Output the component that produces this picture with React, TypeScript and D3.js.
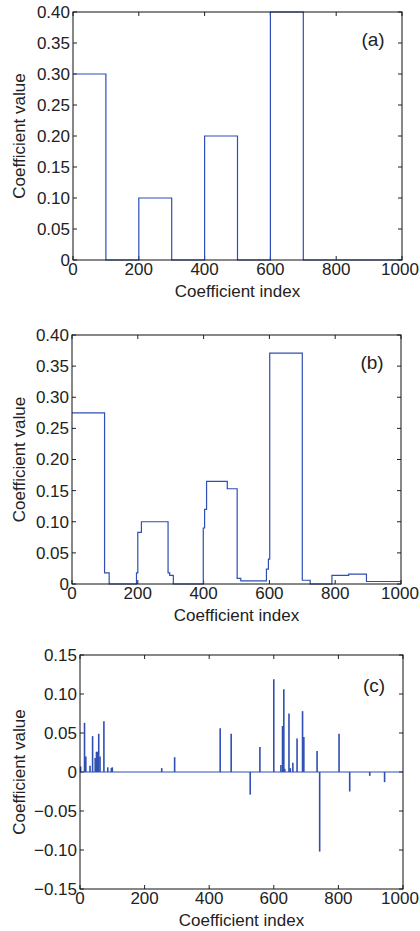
import React, { useEffect, useRef } from "react";
import * as d3 from "d3";

const width = 420;
const height = 931;
const lineColor = "#2f4fb2";
const font = "Arial, 'Liberation Sans', Helvetica, sans-serif";

// x ticks shared by all panels
const xTicks = [0, 200, 400, 600, 800, 1000];

// (a) original coefficients: start of each step and its value
const aStart = [0, 100, 200, 300, 400, 500, 600, 700];
const aValue = [0.3, 0, 0.1, 0, 0.2, 0, 0.4, 0];

// (b) recovered coefficients (step segments)
const bStart = [0, 99, 113, 196, 200, 211, 292, 297, 308, 399, 403, 409, 472, 502, 513, 591, 597, 601, 700, 724, 790, 841, 895];
const bValue = [0.275, 0.018, 0, 0.018, 0.083, 0.1, 0.018, 0.014, 0, 0.09, 0.12, 0.165, 0.153, 0.009, 0.005, 0.024, 0.04, 0.371, 0.006, 0, 0.014, 0.016, 0.004];

const abTicks = [0, 0.05, 0.1, 0.15, 0.2, 0.25, 0.3, 0.35, 0.4];

// (c) sparse coefficients
const cIndex = [2, 14, 18, 31, 39, 47, 51, 55, 58, 62, 74, 86, 97, 100, 253, 293, 434, 468, 527, 557, 600, 622, 627, 631, 634, 647, 651, 659, 672, 689, 693, 734, 742, 802, 835, 897, 943];
const cValue = [0.007, 0.063, 0.02, 0.008, 0.046, 0.018, 0.026, 0.026, 0.049, 0.02, 0.065, 0.006, 0.005, 0.006, 0.005, 0.019, 0.056, 0.049, -0.029, 0.032, 0.119, 0.009, 0.059, 0.106, 0.004, 0.075, 0.005, 0.012, 0.043, 0.078, 0.045, 0.027, -0.102, 0.049, -0.025, -0.005, -0.013];
const cTicks = [-0.15, -0.1, -0.05, 0, 0.05, 0.1, 0.15];

const fmt = (v: number) => (v === 0 ? "0" : d3.format(".2f")(v));

function panel(svg: any, box: any, yDomain: number[], yTicks: number[], tag: any) {
  const x = d3.scaleLinear().domain([0, 1000]).range([box.left, box.right]);
  const y = d3.scaleLinear().domain(yDomain).range([box.bottom, box.top]);
  const g = svg.append("g");
  const tl = 4;

  // y ticks (inward, both sides) + labels
  yTicks.forEach(t => {
    g.append("line").attr("x1", box.left).attr("x2", box.left + tl).attr("y1", y(t)).attr("y2", y(t)).attr("stroke", "#222");
    g.append("line").attr("x1", box.right).attr("x2", box.right - tl).attr("y1", y(t)).attr("y2", y(t)).attr("stroke", "#222");
    g.append("text")
      .attr("x", box.left - 3)
      .attr("y", y(t))
      .attr("dy", "0.35em")
      .attr("text-anchor", "end")
      .attr("font-size", 17)
      .attr("fill", "#222")
      .text(fmt(t));
  });
  xTicks.forEach(t => {
    g.append("line").attr("x1", x(t)).attr("x2", x(t)).attr("y1", box.bottom).attr("y2", box.bottom - tl).attr("stroke", "#222");
    g.append("line").attr("x1", x(t)).attr("x2", x(t)).attr("y1", box.top).attr("y2", box.top + tl).attr("stroke", "#222");
    g.append("text")
      .attr("x", Math.min(x(t), 400))
      .attr("y", box.bottom + 15)
      .attr("text-anchor", "middle")
      .attr("font-size", 17)
      .attr("fill", "#222")
      .text(t);
  });

  g.append("text")
    .attr("x", (box.left + box.right) / 2)
    .attr("y", box.bottom + 37)
    .attr("text-anchor", "middle")
    .attr("font-size", 17)
    .attr("fill", "#222")
    .text("Coefficient index");

  g.append("text")
    .attr("transform", `translate(19,${(box.top + box.bottom) / 2}) rotate(-90)`)
    .attr("text-anchor", "middle")
    .attr("dy", "0.35em")
    .attr("font-size", 17)
    .attr("fill", "#222")
    .text("Coefficient value");

  g.append("text")
    .attr("x", box.right - 29)
    .attr("y", box.top + tag.dy)
    .attr("dy", "0.35em")
    .attr("text-anchor", "middle")
    .attr("font-size", 19)
    .attr("fill", "#222")
    .text(tag.label);

  return { g, x, y };
}

export default function App() {
  const ref = useRef<SVGSVGElement>(null);

  useEffect(() => {
    const svg = d3.select(ref.current);
    svg.selectAll("*").remove();
    svg.attr("font-family", font);

    const stepLine = (xs: any, ys: any) => (starts: number[], values: number[]) => {
      const pts = starts.map((s, i) => [s, values[i]]);
      pts.push([1000, values[values.length - 1]]);
      return d3.line().curve(d3.curveStepAfter).x(d => xs(d[0])).y(d => ys(d[1]))(pts as any);
    };

    const frame = (g: any, box: any) =>
      g.append("rect").attr("x", box.left).attr("y", box.top).attr("width", box.right - box.left).attr("height", box.bottom - box.top).attr("fill", "none").attr("stroke", "#111").attr("stroke-width", 1);

    // (a)
    const boxA = { left: 73, right: 402, top: 12, bottom: 260 };
    const A = panel(svg, boxA, [0, 0.4], abTicks, { label: "(a)", dy: 27 });
    A.g.append("path").attr("d", stepLine(A.x, A.y)(aStart, aValue)).attr("fill", "none").attr("stroke", lineColor).attr("stroke-width", 1.2);
    frame(A.g, boxA);

    // (b)
    const boxB = { left: 72, right: 401, top: 335, bottom: 584 };
    const B = panel(svg, boxB, [0, 0.4], abTicks, { label: "(b)", dy: 27 });
    B.g.append("path").attr("d", stepLine(B.x, B.y)(bStart, bValue)).attr("fill", "none").attr("stroke", lineColor).attr("stroke-width", 1.2);
    frame(B.g, boxB);

    // (c)
    const boxC = { left: 80, right: 403, top: 655, bottom: 889 };
    const C = panel(svg, boxC, [-0.15, 0.15], cTicks, { label: "(c)", dy: 30 });
    C.g.append("line").attr("x1", C.x(0)).attr("x2", C.x(1000)).attr("y1", C.y(0)).attr("y2", C.y(0)).attr("stroke", lineColor).attr("stroke-width", 1.2);
    C.g.selectAll(".spike")
      .data(cIndex.map((i, k) => ({ i, v: cValue[k] })))
      .join("line")
      .attr("class", "spike")
      .attr("x1", d => C.x(d.i))
      .attr("x2", d => C.x(d.i))
      .attr("y1", C.y(0))
      .attr("y2", d => C.y(d.v))
      .attr("stroke", lineColor)
      .attr("stroke-width", 1.6);
    frame(C.g, boxC);
  }, []);

  return (
    <svg
      ref={ref}
      width={width}
      height={height}
      viewBox={`0 0 ${width} ${height}`}
      style={{ position: "absolute", left: 0, top: 0, background: "#fff" }}
    ></svg>
  );
}
